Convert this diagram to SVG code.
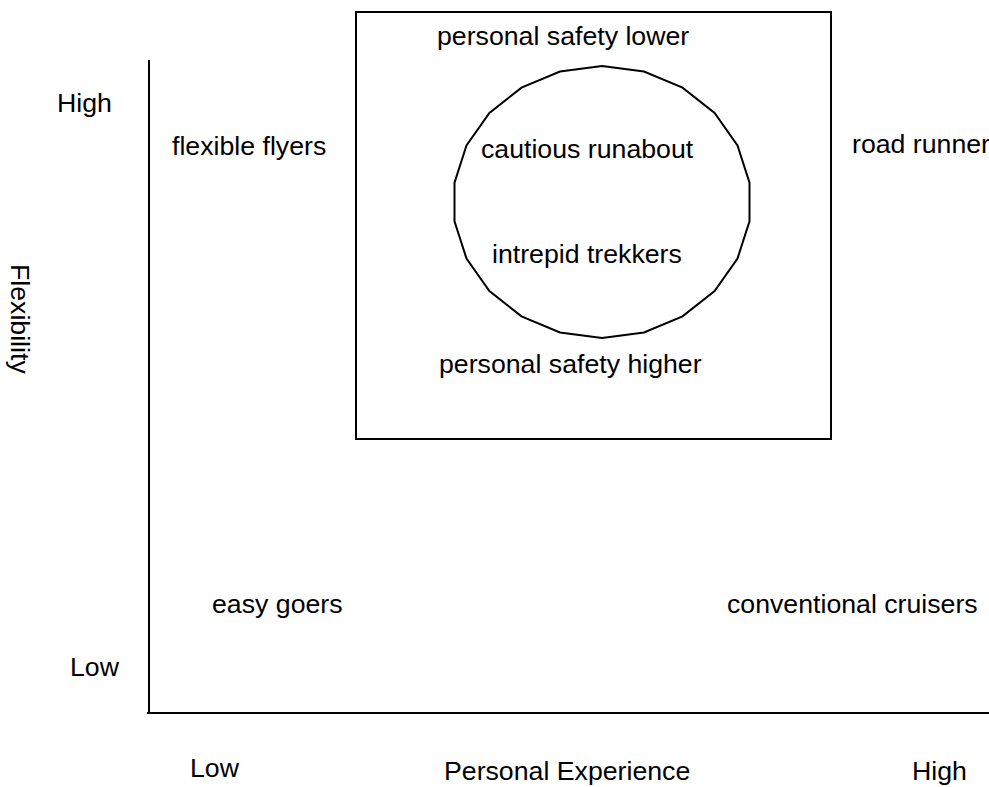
<svg xmlns="http://www.w3.org/2000/svg" width="989" height="787" viewBox="0 0 989 787">
<style>
.t{font-family:"Liberation Sans",Arial,sans-serif;font-size:26.7px;fill:#000}
.s{fill:none;stroke:#000;stroke-width:2}
</style>
<rect width="989" height="787" fill="#fff"/>
<g id="axes">
<line class="s" x1="149" y1="60" x2="149" y2="713"/>
<line class="s" x1="147" y1="713" x2="989" y2="713"/>
</g>
<g id="box">
<rect class="s" x="356" y="12" width="475" height="427"/>
<text class="t" x="437" y="45">personal safety lower</text>
<text class="t" x="439" y="373">personal safety higher</text>
</g>
<g id="circle">
<polygon class="s" points="602,66 644,71.5 682.5,87.6 714.6,112.9 737.5,145.5 749.5,182.6 749.5,221.4 737.5,258.5 714.6,291.1 682.5,316.4 644,332.5 602,338 560,332.5 521.5,316.4 489.4,291.1 466.5,258.5 454.5,221.4 454.5,182.6 466.5,145.5 489.4,112.9 521.5,87.6 560,71.5"/>
<text class="t" x="481" y="158">cautious runabout</text>
<text class="t" x="492" y="263">intrepid trekkers</text>
</g>
<g id="quadrants">
<text class="t" x="172" y="155">flexible flyers</text>
<text class="t" x="852" y="153">road runner</text>
<text class="t" x="212" y="613">easy goers</text>
<text class="t" x="727" y="613">conventional cruisers</text>
</g>
<g id="labels">
<text class="t" x="57" y="112">High</text>
<text class="t" x="70" y="676">Low</text>
<text class="t" transform="translate(11,264) rotate(90)">Flexibility</text>
<text class="t" x="190" y="777">Low</text>
<text class="t" x="444" y="780">Personal Experience</text>
<text class="t" x="912" y="780">High</text>
</g>
</svg>
